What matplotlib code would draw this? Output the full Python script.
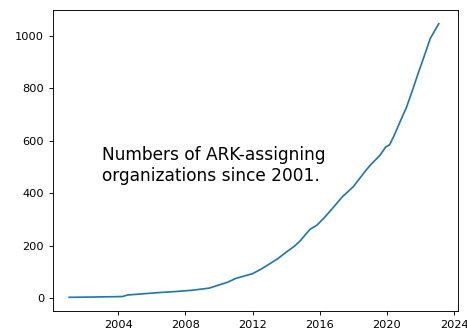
import numpy as np
import pandas as pd
import matplotlib
matplotlib.use("Agg")
import matplotlib.pyplot as plt

# cumulative count of ARK-assigning organizations
months = ["2001-02", "2002-06", "2003-06", "2004-04", "2004-08", "2005-06",
          "2006-06", "2007-06", "2008-06", "2009-06", "2010-01", "2010-07",
          "2011-01", "2011-07", "2012-01", "2012-07", "2013-01", "2013-07",
          "2014-01", "2014-07", "2014-11", "2015-06", "2015-11", "2016-04",
          "2016-09", "2017-05", "2018-01", "2018-10", "2019-01", "2019-08",
          "2019-12", "2020-03", "2020-06", "2020-11", "2021-03", "2021-07",
          "2021-11", "2022-03", "2022-08", "2023-02"]
orgCounts = [3, 4, 5, 6, 12, 16,
             21, 25, 30, 38, 50, 60,
             75, 84, 93, 110, 130, 150,
             175, 198, 218, 262, 278, 305,
             335, 385, 425, 487, 506, 544,
             575, 585, 618, 680, 727, 788,
             852, 912, 990, 1046]
caption = "Numbers of ARK-assigning\norganizations since 2001."

dates = pd.to_datetime(months)
s = 0.816  # the reference is a shrunk default-size figure

fig = plt.figure(figsize=(4.67, 3.29), dpi=100)
ax = fig.add_axes([53/467, 18/329, 405/467, 301/329])
ax.plot(dates, orgCounts, color="#1f77b4", linewidth=1.5*s)
ax.text(0.12, 0.483, caption, transform=ax.transAxes, fontsize=15*s, va="center")
ax.set_xlim(pd.Timestamp("2000-02-15"), pd.Timestamp("2024-03-25"))

ax.tick_params(labelsize=10*s, length=3.5*s, width=0.8*s)
for sp in ax.spines.values():
    sp.set_linewidth(0.8*s)

fig.savefig("out.png", dpi=100)
